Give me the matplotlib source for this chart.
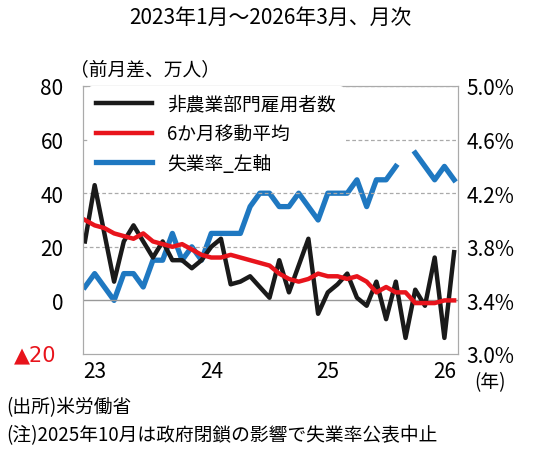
import matplotlib
matplotlib.use("Agg")
import matplotlib.pyplot as plt
import numpy as np

plt.rcParams['font.family'] = ['Noto Sans CJK JP', 'DejaVu Sans']

payrolls = [22,43,25,7,22,28,22,16,22,15,15,12,15,20,23,6,7,9,5,1,15,3,13,23,
            -5,3,6,10,1,-2,7,-7,7,-14,4,-2,16,-14,18]
mavg = [30,28,27,25,24,23,25,22,21,20,21,19,17,16,16,17,16,15,14,13,10,8,7,8,
        10,9,9,8,9,7,3,5,3,3,-1,-1,-1,0,0]
unemp = [3.5,3.6,3.5,3.4,3.6,3.6,3.5,3.7,3.7,3.9,3.7,3.8,3.7,3.9,3.9,3.9,3.9,4.1,4.2,4.2,
         4.1,4.1,4.2,4.1,4.0,4.2,4.2,4.2,4.3,4.1,4.3,4.3,4.4,np.nan,4.5,4.4,4.3,4.4,4.3]
xlabels = ["23", "24", "25", "26"]
left_ticks = [80, 60, 40, 20, 0]
right_ticks = [3.0, 3.4, 3.8, 4.2, 4.6, 5.0]

fig = plt.figure(figsize=(5.4, 4.56), dpi=100)
ax = fig.add_axes([83/540, 1-355/456, 375/540, 268/456])
x = np.arange(len(payrolls))
ax.set_xlim(-0.2, len(payrolls)-0.6)
ax.set_ylim(-20, 80)
for v in [20, 40, 60, 80]:
    ax.axhline(v, color='#aaaaaa', lw=0.9, ls=(0, (3, 2)), zorder=0)
ax.axhline(0, color='#999999', lw=1.0, zorder=0)

ax2 = ax.twinx()
ax2.set_ylim(3.0, 5.0)
ax.set_zorder(ax2.get_zorder()+1); ax.patch.set_visible(False)

l1, = ax.plot(x, payrolls, color='#1a1a1a', lw=3.2, label='非農業部門雇用者数')
l2, = ax.plot(x, mavg, color='#e8141c', lw=3.2, label='6か月移動平均')
l3, = ax2.plot(x, unemp, color='#1f78c1', lw=3.8, label='失業率_左軸')

ax.set_yticks(left_ticks)
ax.set_yticklabels([str(v) for v in left_ticks], fontsize=15)
ax.text(-0.07, -20, '▲20', color='#e8141c', fontsize=15, ha='right', va='center',
        transform=ax.get_yaxis_transform(), family=['DejaVu Sans'])
ax2.set_yticks(right_ticks)
ax2.set_yticklabels([f"{v:.1f}%" for v in right_ticks], fontsize=15)
ax.set_xticks([1, 13, 25, 37])
ax.set_xticklabels(xlabels, fontsize=15)
ax.tick_params(axis='y', length=0, pad=14)
ax.tick_params(axis='x', length=0, pad=4)
ax2.tick_params(length=0, pad=6)
for a in (ax, ax2):
    for s in a.spines.values():
        s.set_color('#aaaaaa')

ax.legend(handles=[l1, l2, l3], loc='upper left', bbox_to_anchor=(0.0, 1.02),
          frameon=True, facecolor='white', edgecolor='none', framealpha=1,
          fontsize=13.5, handlelength=3.0, labelspacing=0.45, borderaxespad=0.3)

fig.text(0.5, 1-18/456, '2023年1月～2026年3月、月次', ha='center', va='center', fontsize=15)
fig.text(70/540, 1-70/456, '（前月差、万人）', ha='left', va='center', fontsize=13.5)
fig.text(490/540, 1-383/456, '(年)', ha='center', va='center', fontsize=13.5)
fig.text(6/540, 1-408/456, '(出所)米労働省', ha='left', va='center', fontsize=13.5)
fig.text(6/540, 1-436/456, '(注)2025年10月は政府閉鎖の影響で失業率公表中止', ha='left', va='center', fontsize=13.5)

fig.savefig('out.png', dpi=100)
